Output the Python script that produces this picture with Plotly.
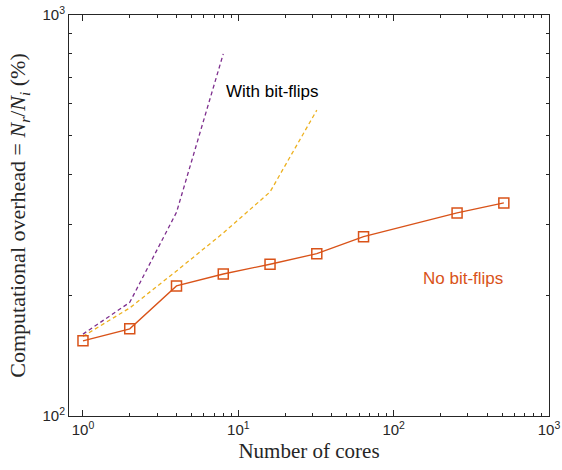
import plotly.graph_objects as go

cores_nobf = [1, 2, 4, 8, 16, 32, 64, 256, 512]
overhead_nobf = [154, 165, 211, 226, 239, 254, 280, 321, 340]

cores_purple = [1, 2, 4, 8]
overhead_purple = [160, 192, 322, 800]

cores_yellow = [1, 2, 4, 8, 16, 32]
overhead_yellow = [158, 186, 230, 286, 362, 579]

major_vals = [1, 10, 100, 1000]
major_text = ["10<sup>0</sup>", "10<sup>1</sup>", "10<sup>2</sup>", "10<sup>3</sup>"]
minor_vals = [m * d for d in (1, 10, 100) for m in range(2, 10)]

purple = "#7E2F8E"
yellow = "#EDB120"
orange = "#D95319"
axcol = "#262626"

fig = go.Figure()
fig.add_trace(go.Scatter(x=cores_purple, y=overhead_purple, mode="lines",
                         line=dict(color=purple, width=1.3, dash="4px,3px"), showlegend=False))
fig.add_trace(go.Scatter(x=cores_yellow, y=overhead_yellow, mode="lines",
                         line=dict(color=yellow, width=1.3, dash="4px,3px"), showlegend=False))
fig.add_trace(go.Scatter(x=cores_nobf, y=overhead_nobf, mode="lines+markers",
                         line=dict(color=orange, width=1.3),
                         marker=dict(symbol="square-open", size=10, color=orange, line=dict(width=1.5)),
                         showlegend=False))

fig.add_annotation(x=1.223, y=2.808, xref="x", yref="y", text="With bit-flips", showarrow=False,
                   font=dict(family="Liberation Sans, Arial", size=17, color="black"))
fig.add_annotation(x=2.447, y=2.344, xref="x", yref="y", text="No bit-flips", showarrow=False,
                   font=dict(family="Liberation Sans, Arial", size=17, color=orange))

axis_common = dict(
    type="log", showline=True, linecolor=axcol, linewidth=1, mirror="ticks",
    ticks="inside", ticklen=6, tickcolor=axcol, showgrid=False, zeroline=False,
    automargin=False,
    tickmode="array", tickvals=major_vals, ticktext=major_text,
    tickfont=dict(family="Liberation Sans, Arial", size=15, color=axcol),
    minor=dict(ticks="inside", ticklen=3, tickcolor=axcol, tickmode="array",
               tickvals=minor_vals, showgrid=False),
)

fig.update_xaxes(**axis_common, range=[-0.09, 3],
                 title=dict(text="Number of cores", standoff=6,
                            font=dict(family="Liberation Serif, serif", size=21, color=axcol)))
fig.update_yaxes(**axis_common, range=[2, 3],
                 title=dict(text="Computational overhead = <i>N</i><sub><i>r</i></sub>/<i>N</i><sub><i>i</i></sub> (%)",
                            standoff=10,
                            font=dict(family="Liberation Serif, serif", size=22, color=axcol)))

fig.update_layout(width=562, height=470, margin=dict(l=69, r=13, t=15, b=54),
                  plot_bgcolor="white", paper_bgcolor="white")

fig.write_html("out.html")
